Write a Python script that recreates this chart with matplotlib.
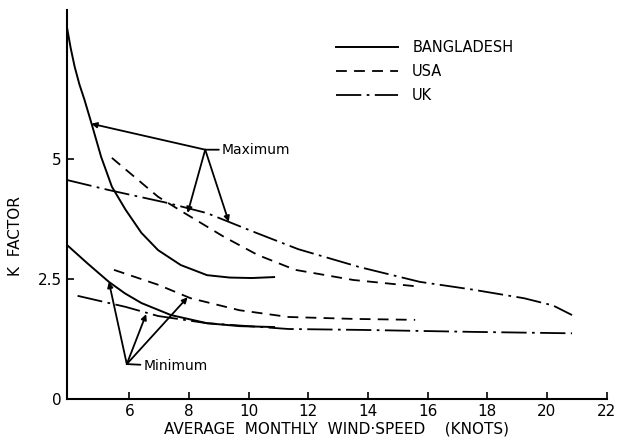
import matplotlib.pyplot as plt

# Curves (wind speed in knots, K factor)
bd_max_x = [3.9, 4.03, 4.16, 4.32, 4.49, 4.72, 5.05, 5.41, 5.87, 6.40, 6.96, 7.72, 8.60, 9.36, 10.1, 10.85]
bd_max_k = [7.75, 7.3, 6.92, 6.55, 6.23, 5.75, 5.04, 4.42, 3.94, 3.46, 3.10, 2.79, 2.58, 2.53, 2.52, 2.54]
bd_min_x = [3.9, 4.6, 5.31, 5.85, 6.40, 7.39, 8.60, 9.69, 10.85]
bd_min_k = [3.21, 2.82, 2.44, 2.2, 2.0, 1.75, 1.58, 1.52, 1.5]

usa_max_x = [5.41, 6.96, 7.85, 9.16, 10.3, 11.56, 13.5, 15.58]
usa_max_k = [5.02, 4.21, 3.87, 3.38, 3.0, 2.69, 2.48, 2.35]
usa_min_x = [5.48, 6.96, 8.05, 9.69, 11.33, 13.5, 15.58]
usa_min_k = [2.69, 2.38, 2.1, 1.85, 1.71, 1.67, 1.65]

uk_max_x = [3.9, 5.31, 7.29, 8.6, 10.25, 11.66, 13.7, 15.74, 17.5, 19.23, 20.2, 20.84]
uk_max_k = [4.56, 4.35, 4.08, 3.87, 3.46, 3.12, 2.75, 2.44, 2.28, 2.1, 1.95, 1.75]
uk_min_x = [4.26, 5.87, 6.96, 8.6, 11.33, 13.87, 17.5, 20.84]
uk_min_k = [2.15, 1.92, 1.73, 1.58, 1.46, 1.44, 1.4, 1.37]

# Pointer annotations
max_apex = (8.54, 5.19)
max_targets = [(4.72, 5.73), (7.95, 3.875), (9.33, 3.69)]
min_apex = (5.91, 0.73)
min_targets = [(5.31, 2.44), (6.56, 1.77), (7.95, 2.12)]

x_ticks = [6, 8, 10, 12, 14, 16, 18, 20, 22]
y_ticks = [0, 2.5, 5]
y_labels = ["0", "2.5", "5"]

fig = plt.figure(figsize=(6.19, 4.46), dpi=100)
ax = fig.add_axes([0.108, 0.105, 0.872, 0.873])

solid = dict(color="black", lw=1.4, ls="-")
dash = dict(color="black", lw=1.3, ls=(0, (6, 4)))
dashdot = dict(color="black", lw=1.3, ls=(0, (14, 3, 1.5, 3)))

ax.plot(bd_max_x, bd_max_k, **solid, label="BANGLADESH")
ax.plot(bd_min_x, bd_min_k, **solid)
ax.plot(usa_max_x, usa_max_k, **dash, label="USA")
ax.plot(usa_min_x, usa_min_k, **dash)
ax.plot(uk_max_x, uk_max_k, **dashdot, label="UK")
ax.plot(uk_min_x, uk_min_k, **dashdot)

arrow = dict(arrowstyle="-|>", color="black", lw=1.3, mutation_scale=8,
             shrinkA=0, shrinkB=0)
for tx, ty in max_targets:
    ax.annotate("", xy=(tx, ty), xytext=max_apex, arrowprops=arrow)
for tx, ty in min_targets:
    ax.annotate("", xy=(tx, ty), xytext=min_apex, arrowprops=arrow)

ax.annotate("Maximum", xy=max_apex, xytext=(max_apex[0] + 0.55, max_apex[1]),
            va="center", ha="left", fontsize=10,
            arrowprops=dict(arrowstyle="-", color="black", lw=1.3,
                            shrinkA=0, shrinkB=0))
ax.annotate("Minimum", xy=min_apex, xytext=(min_apex[0] + 0.55, min_apex[1] - 0.05),
            va="center", ha="left", fontsize=10,
            arrowprops=dict(arrowstyle="-", color="black", lw=1.3,
                            shrinkA=0, shrinkB=0))

ax.set_xlim(3.9, 22)
ax.set_ylim(0, 8.1)
ax.set_xticks(x_ticks)
ax.set_yticks(y_ticks)
ax.set_yticklabels(y_labels)
ax.tick_params(direction="in", length=5, width=1.2, labelsize=11)
ax.spines["top"].set_visible(False)
ax.spines["right"].set_visible(False)
ax.spines["left"].set_linewidth(1.5)
ax.spines["bottom"].set_linewidth(1.5)

ax.set_xlabel("AVERAGE  MONTHLY  WIND·SPEED    (KNOTS)", fontsize=11, labelpad=2)
fig.text(0.025, 0.47, "K  FACTOR", rotation=90, fontsize=11, ha="center", va="center")

ax.legend(loc="upper left", bbox_to_anchor=(0.475, 0.955), frameon=False,
          fontsize=10.5, handlelength=4.2, labelspacing=0.6, handletextpad=1.0)

plt.savefig("out.png", dpi=100)
